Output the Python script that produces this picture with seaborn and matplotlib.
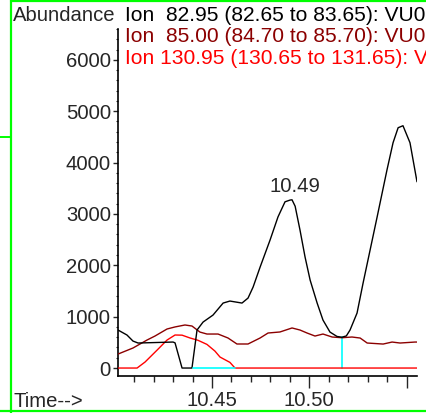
import matplotlib
matplotlib.use("Agg")
import matplotlib.pyplot as plt
from matplotlib.lines import Line2D
from matplotlib.ticker import FixedLocator, MultipleLocator
import pandas as pd
import seaborn as sns

# Extracted ion chromatograms (retention time in minutes, abundance)
ion1_time = [10.4017, 10.4063, 10.4094, 10.4120, 10.4300, 10.4310, 10.4346, 10.4397,
             10.4423, 10.4454, 10.4505, 10.4557, 10.4592, 10.4654, 10.4685, 10.4711,
             10.4747, 10.4798, 10.4839, 10.4875, 10.4901, 10.4911, 10.4927, 10.4952,
             10.4978, 10.5004, 10.5040, 10.5070, 10.5106, 10.5142, 10.5167, 10.5190,
             10.5209, 10.5245, 10.5276, 10.5312, 10.5348, 10.5363, 10.5399, 10.5430,
             10.5456, 10.5481, 10.5517, 10.5553]
ion1_abund = [740, 643, 525, 487, 506, 490, 0, 0,
              740, 895, 1031, 1265, 1304, 1265, 1362, 1576,
              1965, 2490, 2943, 3236, 3270, 3275, 3150, 2685,
              2160, 1712, 1265, 934, 700, 615, 600, 625,
              740, 1070, 1654, 2296, 2938, 3210, 3860, 4386,
              4678, 4717, 4386, 3626]

ion2_time = [10.4017, 10.4094, 10.4166, 10.4207, 10.4269, 10.4310, 10.4361, 10.4397,
             10.4438, 10.4474, 10.4531, 10.4582, 10.4628, 10.4685, 10.4747, 10.4788,
             10.4849, 10.4911, 10.4952, 10.4988, 10.5029, 10.5070, 10.5117, 10.5168,
             10.5219, 10.5261, 10.5297, 10.5379, 10.5425, 10.5466, 10.5543, 10.5553]
ion2_abund = [272, 390, 545, 623, 760, 800, 838, 818,
              700, 662, 662, 585, 468, 468, 585, 682,
              702, 780, 740, 682, 623, 662, 604, 590,
              604, 584, 487, 467, 506, 487, 506, 506]

ion3_time = [10.4017, 10.4115, 10.4156, 10.4218, 10.4269, 10.4310, 10.4346, 10.4387,
             10.4428, 10.4474, 10.4515, 10.4541, 10.4592, 10.4618, 10.5553]
ion3_abund = [0, 0, 117, 350, 545, 643, 640, 585,
              540, 460, 330, 214, 110, 0, 0]

ion_labels = ["Ion  82.95 (82.65 to 83.65): VU0",
              "Ion  85.00 (84.70 to 85.70): VU0",
              "Ion 130.95 (130.65 to 131.65): VU0"]
ion_colors = ["#000000", "#8B0000", "#FF0000"]

# Integration markers for the labelled peak
baseline_time = [10.4402, 10.4618]
baseline_abund = [0, 0]
drop_time = [10.5167, 10.5167]
drop_abund = [0, 600]

x_major = [10.45, 10.50, 10.55]
x_major_labels = ["10.45", "10.50", ""]
y_major = [0, 1000, 2000, 3000, 4000, 5000, 6000]

sns.set_style("ticks")
plt.rcParams["font.family"] = ["Liberation Sans", "DejaVu Sans"]
FS = 14.6
plt.rcParams["font.size"] = FS

W, H = 426, 413
fig = plt.figure(figsize=(W / 100, H / 100), dpi=100)
ax = fig.add_axes([118 / W, 1 - 376 / H, (417 - 118) / W, (376 - 29) / H])

series = [(ion1_time, ion1_abund), (ion2_time, ion2_abund), (ion3_time, ion3_abund)]
draw_order = [1, 2, 0]
for i in draw_order:
    t, a = series[i]
    df = pd.DataFrame({"time": t, "abundance": a})
    sns.lineplot(data=df, x="time", y="abundance", ax=ax, color=ion_colors[i],
                 lw=1.0, sort=False, estimator=None, zorder=3 + (i == 0))

sns.lineplot(x=baseline_time, y=baseline_abund, ax=ax, color="#00FFFF", lw=1.2,
             estimator=None, zorder=5)
sns.lineplot(x=drop_time, y=drop_abund, ax=ax, color="#00FFFF", lw=1.2,
             estimator=None, zorder=2)

# Retention-time label on the apex of the main peak
peak_idx = max(range(len(ion1_abund)), key=lambda k: ion1_abund[k] if ion1_time[k] < 10.50 else -1)
peak_t, peak_v = ion1_time[peak_idx], ion1_abund[peak_idx]
ax.annotate(f"{peak_t:.2f}", xy=(peak_t, peak_v), xytext=(2, 3),
            textcoords="offset points", ha="center", va="bottom", fontsize=FS)

ax.set_xlim(10.4017, 10.5553)
ax.set_ylim(-155, 6600)
ax.xaxis.set_major_locator(FixedLocator(x_major))
ax.set_xticklabels(x_major_labels)
ax.xaxis.set_minor_locator(MultipleLocator(0.01))
ax.yaxis.set_major_locator(FixedLocator(y_major))
ax.yaxis.set_minor_locator(MultipleLocator(200))
ax.tick_params(axis="x", which="major", length=8.5, width=1.0, pad=2, labelsize=FS)
ax.tick_params(axis="x", which="minor", length=4.3, width=1.0)
ax.tick_params(axis="y", which="major", length=3.6, width=1.0, pad=1.5, labelsize=FS)
ax.tick_params(axis="y", which="minor", length=1.5, width=0.8)
ax.set_xlabel("")
ax.set_ylabel("")
sns.despine(ax=ax)
for s in ("left", "bottom"):
    ax.spines[s].set_linewidth(1.2)
    ax.spines[s].set_color("black")

# Header texts
fig.text(13 / W, 1 - 21 / H, "Abundance", ha="left", va="baseline", fontsize=FS)
for k, (lab, col) in enumerate(zip(ion_labels, ion_colors)):
    fig.text(125 / W, 1 - (21 + 21.5 * k) / H, lab, ha="left", va="baseline",
             fontsize=15.1, color=col)
fig.text(13 / W, 1 - 407 / H, "Time-->", ha="left", va="baseline", fontsize=FS)

# Window frame
green = "#00FF00"
fig.add_artist(Line2D([11 / W, 11 / W], [0, 1], transform=fig.transFigure, color=green, lw=1.6))
fig.add_artist(Line2D([11 / W, 1], [1 - 1 / H, 1 - 1 / H], transform=fig.transFigure, color=green, lw=1.6))
fig.add_artist(Line2D([0, 1], [1 - 410.5 / H, 1 - 410.5 / H], transform=fig.transFigure, color=green, lw=1.6))
fig.add_artist(Line2D([0, 11 / W], [1 - 137 / H, 1 - 137 / H], transform=fig.transFigure, color=green, lw=1.4))

fig.savefig("out.png", dpi=100)
